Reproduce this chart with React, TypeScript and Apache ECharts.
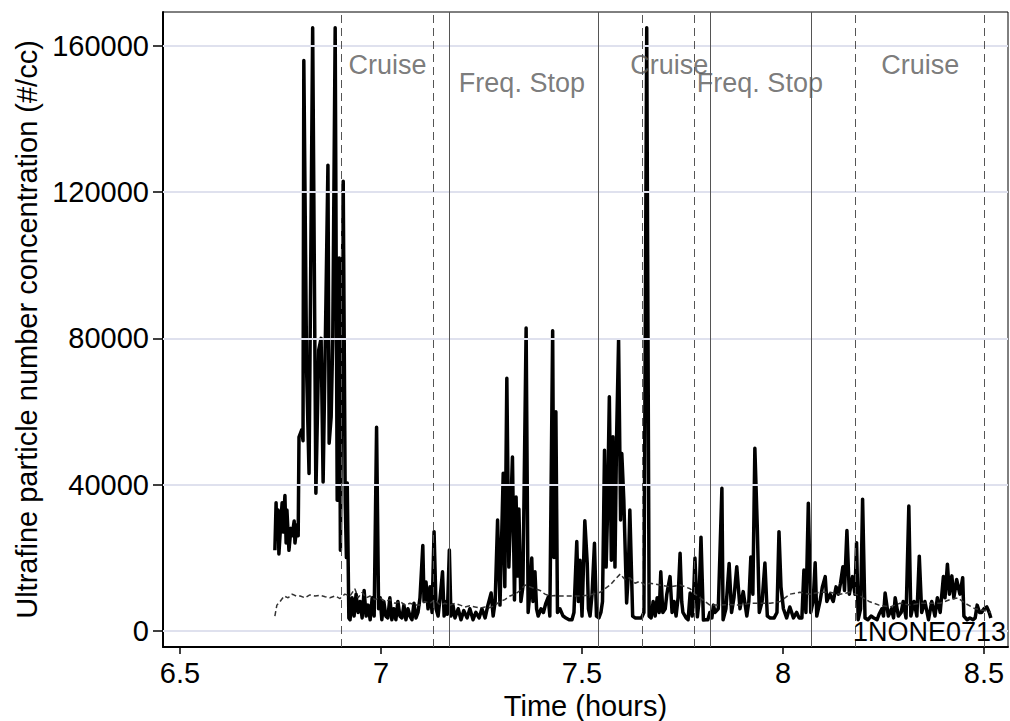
import React, { useEffect, useRef } from 'react';
import * as echarts from 'echarts';

const FONT = '"Liberation Sans", Arial, Helvetica, sans-serif';

const X_TICKS = [6.5, 7, 7.5, 8, 8.5];
const Y_TICKS = [0, 40000, 80000, 120000, 160000];

const SOLID_T = [
  6.736, 6.739, 6.741, 6.744, 6.746, 6.751, 6.754, 6.756, 6.761, 6.764, 6.766, 6.771, 6.776, 6.779, 6.784, 6.786,
  6.791, 6.794, 6.796, 6.803, 6.806, 6.808, 6.815, 6.821, 6.830, 6.838, 6.845, 6.851, 6.856, 6.863, 6.868, 6.871,
  6.876, 6.880, 6.886, 6.891, 6.896, 6.899, 6.906, 6.911, 6.914, 6.916, 6.920,
  6.923, 6.928, 6.933, 6.938, 6.943, 6.948, 6.953, 6.958, 6.963, 6.968, 6.973, 6.978, 6.983, 6.989, 6.994, 6.998,
  7.002, 7.007, 7.012, 7.017, 7.022, 7.027, 7.032, 7.037, 7.042, 7.047, 7.052, 7.057, 7.062, 7.067, 7.072, 7.077,
  7.082, 7.087, 7.092, 7.097, 7.104, 7.107, 7.112, 7.117, 7.122, 7.127, 7.132, 7.137, 7.142, 7.147, 7.153, 7.157,
  7.162, 7.165, 7.170, 7.174, 7.179, 7.184, 7.192, 7.199, 7.206, 7.214, 7.221, 7.229, 7.236, 7.244, 7.251, 7.259,
  7.266, 7.274, 7.279, 7.284, 7.290, 7.296, 7.304, 7.308, 7.313, 7.318, 7.327, 7.332, 7.336, 7.340, 7.343, 7.348,
  7.353, 7.361, 7.366, 7.370, 7.375, 7.378, 7.383, 7.387, 7.391, 7.398, 7.404, 7.410, 7.416, 7.420, 7.427, 7.430,
  7.435, 7.439, 7.445, 7.453, 7.460, 7.468, 7.475, 7.480, 7.487, 7.491, 7.495, 7.500, 7.507, 7.513, 7.516, 7.520,
  7.525, 7.531, 7.536, 7.542, 7.547, 7.551, 7.556, 7.560, 7.563, 7.568, 7.573, 7.577, 7.582, 7.586, 7.591, 7.596,
  7.599, 7.604, 7.611, 7.615, 7.619, 7.626, 7.632, 7.639, 7.648, 7.654, 7.661, 7.667, 7.672, 7.677, 7.682, 7.687,
  7.692, 7.696, 7.701, 7.707, 7.711, 7.719, 7.724, 7.729, 7.734, 7.739, 7.744, 7.748, 7.751, 7.759, 7.764, 7.769,
  7.774, 7.777, 7.781, 7.787, 7.791, 7.796, 7.802, 7.808, 7.813, 7.818, 7.823, 7.827, 7.831, 7.839, 7.848, 7.851,
  7.858, 7.866, 7.872, 7.878, 7.885, 7.893, 7.901, 7.910, 7.915, 7.920, 7.925, 7.930, 7.936, 7.941, 7.948, 7.955,
  7.961, 7.968, 7.978, 7.985, 7.990, 7.995, 8.001, 8.009, 8.017, 8.026, 8.034, 8.040, 8.047, 8.052, 8.057, 8.063,
  8.069, 8.075, 8.080, 8.084, 8.092, 8.098, 8.105, 8.109, 8.117, 8.125, 8.132, 8.138, 8.143, 8.149, 8.153, 8.159,
  8.165, 8.173, 8.179, 8.183, 8.187, 8.193, 8.198, 8.204, 8.211, 8.219, 8.226, 8.234, 8.239, 8.246, 8.250, 8.254,
  8.262, 8.270, 8.275, 8.279, 8.287, 8.294, 8.299, 8.306, 8.313, 8.318, 8.326, 8.333, 8.339, 8.345, 8.353, 8.362,
  8.370, 8.378, 8.384, 8.391, 8.399, 8.403, 8.409, 8.414, 8.420, 8.425, 8.432, 8.440, 8.447, 8.450, 8.458, 8.465,
  8.473, 8.478, 8.483, 8.489, 8.494, 8.500, 8.507, 8.513, 8.517,
];

const SOLID_V = [
  22000, 35000, 25000, 33000, 21000, 30000, 35000, 27000, 37000, 24000, 33000, 22000, 28000, 26000, 30000, 24000,
  29000, 26000, 53000, 55000, 52000, 156000, 71000, 43000, 165000, 37600, 76800, 80000, 40700, 90000, 127400, 51300,
  58500, 80000, 165000, 35700, 102000, 22000, 123000, 35000, 20000, 40400, 3500,
  3000, 9000, 4000, 10000, 5000, 8000, 3500, 11000, 4000, 7000, 3000, 9000, 4000, 55700, 6000, 9000,
  3000, 8000, 4000, 3500, 9000, 3000, 6000, 3000, 8000, 4000, 3500, 7000, 3000, 6000, 4000, 3000,
  7500, 3500, 5000, 9000, 23300, 8000, 13300, 6000, 12000, 5000, 27100, 6000, 4000, 9000, 16100, 4000,
  8000, 4500, 22100, 4000, 7000, 3500, 6000, 3000, 5500, 3500, 6000, 3000, 5000, 3500, 6000, 3500,
  7000, 10300, 4000, 8000, 30300, 7000, 43100, 12000, 69100, 17400, 47500, 8400, 36600, 15000, 33300, 8000,
  12000, 82800, 5000, 10000, 19900, 8000, 16100, 6000, 4000, 6000, 5000, 7500, 9200, 4000, 82100, 20000,
  59900, 5000, 6000, 4000, 3500, 3000, 3000, 5000, 24400, 8000, 19300, 4000, 30100, 18500, 6000, 4000,
  10000, 23900, 4000, 3500, 5000, 8000, 49400, 17400, 30000, 64000, 19300, 53100, 17400, 52700, 79500, 30300,
  48500, 35800, 7600, 15000, 33000, 4000, 3500, 3500, 3500, 5000, 165000, 4000, 3500, 8000, 4000, 9000,
  5000, 16100, 5000, 6000, 10000, 14800, 5000, 8000, 4000, 9000, 21200, 8000, 5000, 3500, 3000, 10300,
  4000, 8000, 19900, 3800, 8000, 25600, 2900, 3000, 3000, 5000, 3500, 7000, 5000, 6000, 39000, 3000,
  6000, 18400, 5000, 9000, 17500, 6000, 10700, 4000, 8000, 20200, 10000, 49900, 28500, 5000, 8000, 18500,
  4000, 3500, 3500, 5000, 27100, 12000, 6000, 3500, 6500, 3500, 5000, 3500, 3500, 16600, 5000, 34900,
  5000, 8000, 18600, 4000, 8000, 12000, 14800, 8000, 10000, 8000, 12000, 10000, 13000, 17500, 11000, 27400,
  10000, 14800, 10000, 24100, 3000, 6000, 36000, 3500, 3000, 4000, 3500, 3000, 4500, 6000, 4000, 10300,
  4000, 6000, 3500, 9000, 4000, 5000, 8000, 3500, 34100, 4000, 8000, 4000, 20400, 5000, 8000, 3000,
  8000, 4000, 9000, 5000, 14800, 9000, 18200, 10000, 15000, 9000, 14000, 10000, 14500, 4000, 3000, 3500,
  3000, 3500, 7000, 5000, 5000, 6000, 6500, 5000, 3500,
];

const DASH_T = [
  6.736, 6.741, 6.749, 6.759, 6.769, 6.779, 6.789, 6.799, 6.811, 6.823, 6.836, 6.848, 6.861, 6.873, 6.886, 6.898,
  6.910, 6.923, 6.935, 6.943, 6.953, 6.963, 6.973, 6.985, 6.998, 7.010, 7.022, 7.035, 7.047, 7.060, 7.072, 7.085,
  7.097, 7.109, 7.122, 7.134, 7.147, 7.159, 7.172, 7.184, 7.197, 7.209, 7.221, 7.234, 7.246, 7.259, 7.271, 7.284,
  7.296, 7.308, 7.321, 7.333, 7.346, 7.358, 7.371, 7.383, 7.396, 7.408, 7.420, 7.433, 7.445, 7.470, 7.495, 7.520,
  7.545, 7.557, 7.570, 7.582, 7.595, 7.607, 7.619, 7.632, 7.644, 7.657, 7.669, 7.694, 7.719, 7.744, 7.769, 7.781,
  7.794, 7.806, 7.818, 7.843, 7.868, 7.893, 7.918, 7.943, 7.968, 7.993, 8.017, 8.042, 8.067, 8.092, 8.117, 8.142,
  8.167, 8.192, 8.214, 8.239, 8.266, 8.291, 8.316, 8.341, 8.366, 8.391, 8.415, 8.435, 8.453, 8.478, 8.502, 8.517,
];

const DASH_V = [
  4000, 7000, 8000, 9500, 9000, 10000, 9500, 9500, 9000, 9800, 9500, 9700, 9300, 9000, 9500, 8800,
  10000, 9500, 11500, 9000, 10500, 9000, 9500, 8500, 9000, 8000, 8500, 7500, 8000, 7000, 7500, 7000,
  7000, 8000, 7500, 8500, 7000, 7500, 7000, 7500, 7000, 6500, 6800, 6500, 6200, 6500, 6300, 7000,
  8000, 8500, 9500, 10000, 11000, 12500, 12000, 11500, 11000, 10000, 9500, 9600, 9500, 9500, 9500, 9800,
  10500, 11500, 12500, 14000, 15500, 14000, 14500, 13000, 13500, 12500, 13000, 12500, 12000, 12500, 11500, 10000,
  9000, 8000, 7000, 7000, 7200, 7000, 7500, 7500, 7500, 8000, 10000, 10500, 10000, 10500, 10500, 10000,
  10500, 9500, 8000, 7000, 6500, 7500, 7000, 7500, 7500, 7500, 8500, 9000, 7500, 6000, 5500, 5000,
];

const CRUISE_BOUNDS = [6.898, 7.134, 7.6505, 7.783, 8.183, 8.5];
const STOP_BOUNDS = [7.166, 7.535, 7.816, 8.069];

const SEG_LABELS = ['Cruise', 'Freq. Stop', 'Cruise', 'Freq. Stop', 'Cruise'];
const SEG_X = [7.016, 7.3505, 7.717, 7.9425, 8.3415];
const SEG_Y = [154800, 149900, 154800, 149900, 154800];

const SUBJECT_ID = '1NONE0713';

export default function App() {
  const ref = useRef<HTMLDivElement>(null);

  useEffect(() => {
    if (!ref.current) return;
    const chart = echarts.init(ref.current, undefined, { renderer: 'svg' });

    const solidData = SOLID_T.map((t, i) => [t, SOLID_V[i]]);
    const dashData = DASH_T.map((t, i) => [t, DASH_V[i]]);
    const labelData = SEG_LABELS.map((name, i) => ({ name, value: [SEG_X[i], SEG_Y[i]] }));

    const option: any = {
      animation: false,
      grid: {
        left: 163,
        right: 2,
        top: 12,
        bottom: 74,
        show: true,
        borderColor: '#000',
        borderWidth: 1,
        backgroundColor: 'transparent',
        containLabel: false,
        outerBoundsMode: 'none',
      },
      xAxis: {
        type: 'value',
        min: 6.4577,
        max: 8.5597,
        name: 'Time (hours)',
        nameLocation: 'middle',
        nameGap: 35,
        nameTextStyle: { fontSize: 29, color: '#000', fontFamily: FONT },
        axisLine: { show: true, onZero: false, lineStyle: { color: '#000', width: 2 } },
        axisTick: { show: true, customValues: X_TICKS, length: 7, lineStyle: { color: '#000', width: 1.5 } },
        axisLabel: {
          customValues: X_TICKS,
          fontSize: 29,
          color: '#000',
          margin: 11,
          fontFamily: FONT,
          formatter: (v: number) => String(v),
        },
        splitLine: { show: false },
      },
      yAxis: {
        type: 'value',
        min: -4460,
        max: 169304,
        name: 'Ultrafine particle number concentration (#/cc)',
        nameLocation: 'middle',
        nameGap: 120,
        nameTextStyle: { fontSize: 29, color: '#000', fontFamily: FONT },
        axisLine: { show: true, onZero: false, lineStyle: { color: '#000', width: 2 } },
        axisTick: { show: true, customValues: Y_TICKS, length: 10, lineStyle: { color: '#000', width: 1.5 } },
        axisLabel: {
          customValues: Y_TICKS,
          fontSize: 29,
          color: '#000',
          margin: 14,
          fontFamily: FONT,
          formatter: (v: number) => String(v),
        },
        splitLine: { show: false },
      },
      series: [
        {
          type: 'line',
          data: [],
          z: 1,
          silent: true,
          markLine: {
            silent: true,
            symbol: ['none', 'none'],
            label: { show: false },
            emphasis: { disabled: true },
            lineStyle: { color: '#dfe1ee', width: 2, type: 'solid' },
            data: Y_TICKS.map((v) => ({ yAxis: v })),
          },
        },
        {
          type: 'line',
          data: [],
          z: 2,
          silent: true,
          markLine: {
            silent: true,
            symbol: ['none', 'none'],
            label: { show: false },
            emphasis: { disabled: true },
            lineStyle: { color: '#555', width: 1, type: [8, 5] },
            data: CRUISE_BOUNDS.map((v) => ({ xAxis: v })),
          },
        },
        {
          type: 'line',
          data: [],
          z: 2,
          silent: true,
          markLine: {
            silent: true,
            symbol: ['none', 'none'],
            label: { show: false },
            emphasis: { disabled: true },
            lineStyle: { color: '#555', width: 1, type: 'solid' },
            data: STOP_BOUNDS.map((v) => ({ xAxis: v })),
          },
        },
        {
          type: 'line',
          data: solidData,
          z: 3,
          silent: true,
          showSymbol: false,
          symbol: 'none',
          lineStyle: { color: '#000', width: 3.5, join: 'round' },
        },
        {
          type: 'line',
          data: dashData,
          z: 4,
          silent: true,
          showSymbol: false,
          symbol: 'none',
          lineStyle: { color: '#333', width: 1.5, type: [5, 3] },
        },
        {
          type: 'scatter',
          data: labelData,
          z: 5,
          silent: true,
          symbolSize: 0,
          label: {
            show: true,
            position: 'inside',
            formatter: (p: any) => p.name,
            fontSize: 27,
            color: '#595959',
            fontFamily: FONT,
          },
        },
      ],
      graphic: [
        {
          type: 'text',
          x: 1006,
          y: 632,
          z: 10,
          style: {
            text: SUBJECT_ID,
            font: `27px ${FONT}`,
            fill: '#000',
            align: 'right',
            verticalAlign: 'middle',
            textAlign: 'right',
            textVerticalAlign: 'middle',
          },
        },
      ],
    };

    chart.setOption(option);
    return () => {
      chart.dispose();
    };
  }, []);

  return (
    <div
      ref={ref}
      style={{ position: 'absolute', left: 0, top: 0, width: 1010, height: 721, background: '#fff' }}
    />
  );
}
